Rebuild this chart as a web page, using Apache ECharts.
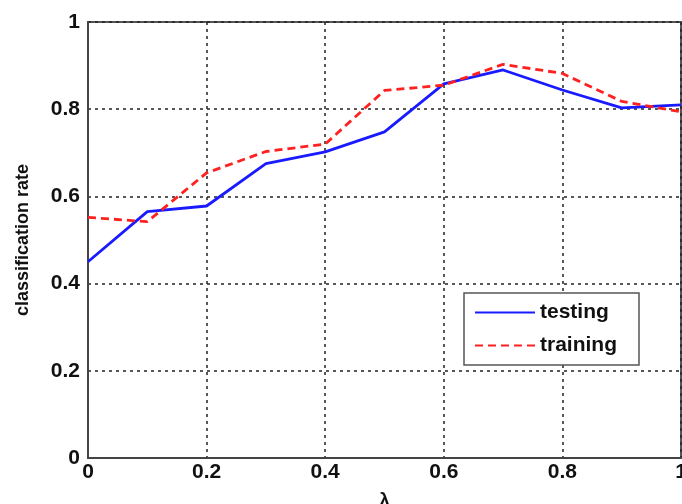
<!DOCTYPE html>
<html>
<head>
<meta charset="utf-8">
<script src="https://cdn.jsdelivr.net/npm/echarts@6/dist/echarts.min.js"></script>
<style>
    html, body { margin: 0; padding: 0; background: #fff; }
    #chart { width: 682px; height: 504px; }
</style>
</head>
<body>
<div id="chart"></div>
<script>
// lambda values
const lambdas = [0, 0.1, 0.2, 0.3, 0.4, 0.5, 0.6, 0.7, 0.8, 0.9, 1.0];
// classification rate
const testing = [0.45, 0.565, 0.578, 0.675, 0.702, 0.748, 0.858, 0.89, 0.844, 0.803, 0.81];
const training = [0.552, 0.542, 0.654, 0.703, 0.72, 0.843, 0.855, 0.903, 0.882, 0.818, 0.794];

const pairs = (ys) => lambdas.map((x, i) => [x, ys[i]]);

const chart = echarts.init(document.getElementById('chart'));

const tickFont = {
    fontFamily: 'Liberation Sans, Arial, sans-serif',
    fontWeight: 'bold',
    fontSize: 21,
    color: '#111',
};

const option = {
    animation: false,
    backgroundColor: '#fff',
    grid: {
        left: 88,
        right: 1,
        top: 22,
        bottom: 46,
        outerBoundsMode: 'none',
        show: true,
        borderColor: '#555',
        borderWidth: 2,
    },
    legend: {
        left: 464,
        top: 293,
        orient: 'vertical',
        itemWidth: 60,
        itemHeight: 14,
        itemGap: 12,
        padding: [9, 22, 9, 10],
        backgroundColor: '#fff',
        borderColor: '#555',
        borderWidth: 1.5,
        itemStyle: { opacity: 0 },
        textStyle: Object.assign({}, tickFont, { fontSize: 21 }),
        data: ['testing', 'training'],
    },
    xAxis: {
        type: 'value',
        min: 0,
        max: 1,
        interval: 0.2,
        name: 'λ',
        nameLocation: 'middle',
        nameGap: 33,
        nameTextStyle: Object.assign({}, tickFont, { fontSize: 19 }),
        axisLine: { show: true, lineStyle: { color: '#444', width: 2 } },
        axisTick: { show: false },
        axisLabel: Object.assign({ margin: 4, formatter: (v) => String(+v.toFixed(1)) }, tickFont),
        splitLine: { show: true, lineStyle: { color: '#222', type: [3, 4], width: 1.5 } },
    },
    yAxis: {
        type: 'value',
        min: 0,
        max: 1,
        interval: 0.2,
        name: 'classification rate',
        nameLocation: 'middle',
        nameGap: 56,
        nameTextStyle: Object.assign({}, tickFont, { fontSize: 18 }),
        axisLine: { show: true, lineStyle: { color: '#444', width: 2 } },
        axisTick: { show: false },
        axisLabel: Object.assign({ margin: 8, formatter: (v) => String(+v.toFixed(1)) }, tickFont),
        splitLine: { show: true, lineStyle: { color: '#222', type: [3, 4], width: 1.5 } },
    },
    series: [
        {
            name: 'testing',
            type: 'line',
            data: pairs(testing),
            symbol: 'none',
            color: '#1a1aff',
            lineStyle: { color: '#1a1aff', width: 2.8 },
        },
        {
            name: 'training',
            type: 'line',
            data: pairs(training),
            symbol: 'none',
            color: '#ff2020',
            lineStyle: { color: '#ff2020', width: 2.8, type: [8, 5] },
        },
    ],
};

chart.setOption(option);
</script>
</body>
</html>
